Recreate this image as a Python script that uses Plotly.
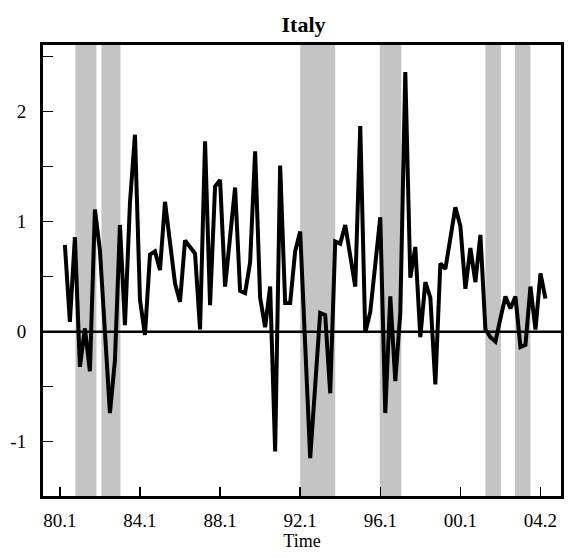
import plotly.graph_objects as go

# Quarterly observations, 80.2 .. 04.2 (index 1 = 80.2, index 0 = 80.1)
values = [
    0.79, 0.09, 0.86, -0.32, 0.03, -0.36, 1.11, 0.74, 0.00, -0.74,
    -0.26, 0.97, 0.06, 1.17, 1.79, 0.29, -0.03, 0.70, 0.73, 0.56,
    1.18, 0.81, 0.44, 0.27, 0.83, 0.77, 0.71, 0.02, 1.73, 0.24,
    1.32, 1.38, 0.41, 0.86, 1.31, 0.37, 0.35, 0.63, 1.64, 0.31,
    0.04, 0.41, -1.09, 1.51, 0.26, 0.26, 0.73, 0.91, -0.12, -1.15,
    -0.49, 0.17, 0.15, -0.56, 0.82, 0.80, 0.97, 0.69, 0.41, 1.87,
    -0.01, 0.18, 0.61, 1.04, -0.74, 0.32, -0.45, 0.17, 2.36, 0.49,
    0.77, -0.05, 0.45, 0.31, -0.48, 0.62, 0.57, 0.85, 1.13, 0.96,
    0.39, 0.76, 0.45, 0.88, 0.02, -0.05, -0.09, 0.12, 0.32, 0.21,
    0.32, -0.14, -0.12, 0.41, 0.02, 0.53, 0.30,
]
quarters = list(range(1, len(values) + 1))

# Recession bands (in quarter index units)
band_start = [3.1, 8.3, 48.0, 63.9, 85.0, 90.9]
band_end = [7.3, 12.1, 55.0, 68.2, 88.1, 94.0]

x_tickvals = [0, 16, 32, 48, 64, 80, 96]
x_ticktext = ["80.1", "84.1", "88.1", "92.1", "96.1", "00.1", "04.2"]

y_tickvals = [-1.0, -0.5, 0.0, 0.5, 1.0, 1.5, 2.0, 2.5]
y_ticktext = ["-1", "", "0", "", "1", "", "2", ""]

FONT = "Liberation Serif"
W, H = 573, 557

fig = go.Figure()

fig.add_trace(go.Scatter(
    x=quarters, y=values, mode="lines",
    line=dict(color="black", width=4),
    hoverinfo="skip", showlegend=False,
))

shapes = []
for s, e in zip(band_start, band_end):
    shapes.append(dict(type="rect", xref="x", yref="paper", x0=s, x1=e, y0=0, y1=1,
                       fillcolor="#c4c4c4", line=dict(width=0), layer="below"))
shapes.append(dict(type="line", xref="paper", yref="y", x0=0, x1=1, y0=0, y1=0,
                   line=dict(color="black", width=2.5), layer="below"))

fig.update_layout(
    width=W, height=H,
    margin=dict(l=43, r=9, t=45, b=61),
    paper_bgcolor="white", plot_bgcolor="white",
    font=dict(family=FONT, size=18, color="black"),
    title=dict(text="<b>Italy</b>", x=303.5 / W, xanchor="center",
               y=1 - 24 / H, yanchor="middle", yref="container",
               font=dict(family=FONT, size=22, color="black")),
    shapes=shapes,
    xaxis=dict(
        range=[-3.37, 100.1], tickvals=x_tickvals, ticktext=x_ticktext,
        ticks="inside", ticklen=9, tickwidth=1.5, tickcolor="black",
        showline=True, linecolor="black", linewidth=3, mirror=True,
        showgrid=False, zeroline=False, ticklabelstandoff=5,
        title=dict(text="Time", standoff=0, font=dict(family=FONT, size=18)),
        tickfont=dict(family=FONT, size=19),
    ),
    yaxis=dict(
        range=[-1.494, 2.606], tickvals=y_tickvals, ticktext=y_ticktext,
        ticks="inside", ticklen=10, tickwidth=1.5, tickcolor="black",
        showline=True, linecolor="black", linewidth=3, mirror=True,
        showgrid=False, zeroline=False, ticklabelstandoff=10,
        tickfont=dict(family=FONT, size=19),
    ),
)

fig.write_html(
    "out.html",
    config={"displayModeBar": False, "staticPlot": True},
    post_script="document.body.style.margin='0';document.body.style.overflow='hidden';",
)
